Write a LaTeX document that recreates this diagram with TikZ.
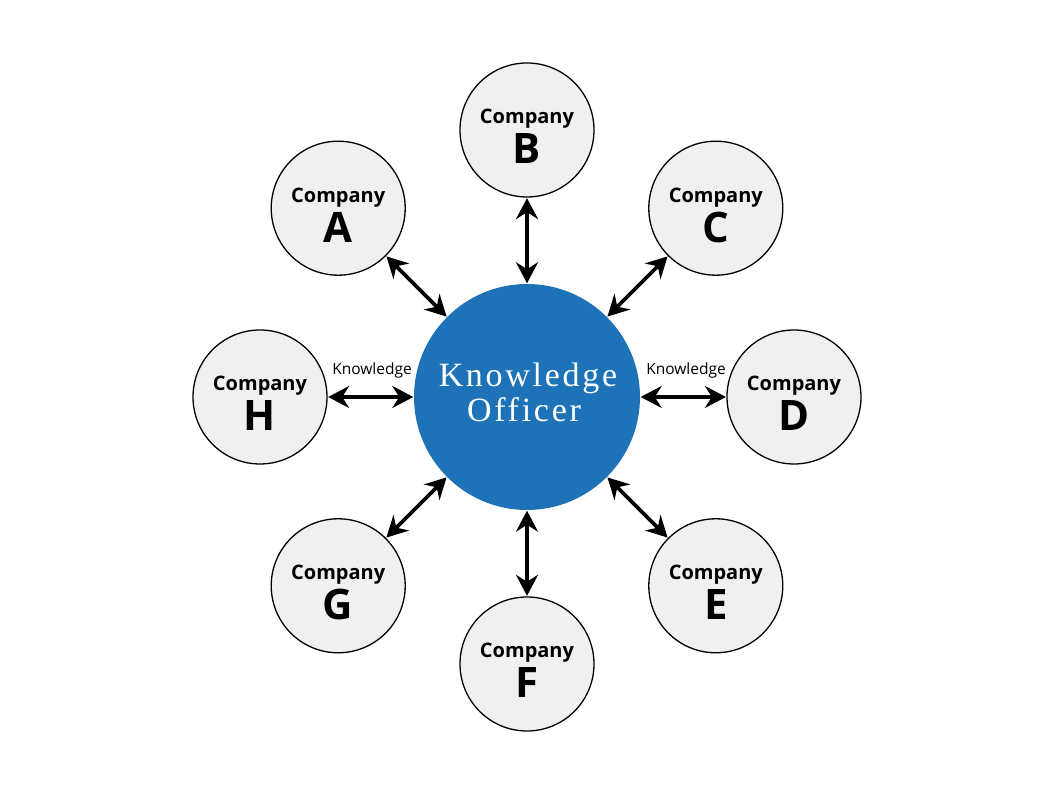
\documentclass[tikz,border=0pt]{standalone}
\usepackage{fontspec}
\setmainfont{Open Sans}
\newfontfamily\kofont[LetterSpace=8]{Liberation Serif}
\usetikzlibrary{arrows.meta,calc}
\definecolor{kblue}{RGB}{30,115,184}
\definecolor{cgray}{RGB}{240,240,240}
\begin{document}
\begin{tikzpicture}[x=1pt,y=1pt,
  company/.style={circle,draw=black,line width=1.3pt,fill=cgray,minimum size=134pt,inner sep=0pt},
  kocircle/.style={circle,fill=kblue,minimum size=226pt,inner sep=0pt},
  link/.style={{Stealth[length=21pt,width=22pt,inset=7pt]}-{Stealth[length=21pt,width=22pt,inset=7pt]},line width=3.8pt,shorten <=0.5pt,shorten >=0.5pt},
  ctext/.style={inner sep=0pt,font=\fontsize{20}{24}\selectfont\bfseries},
  cletter/.style={inner sep=0pt,font=\fontsize{42}{48}\selectfont\bfseries},
  klabel/.style={inner sep=0pt,font=\fontsize{15.5}{18}\selectfont},
  kotext/.style={inner sep=0pt,text=white,font=\kofont\fontsize{34}{40}\selectfont}
]
\useasboundingbox (0,0) rectangle (1058,794);
\node[kocircle] (ko) at (527,397) {};
\node[kotext,anchor=base] (ko1) at (528,407) {Knowledge};
\node[kotext,anchor=base] (ko2) at (524,372) {Officer};
\foreach \n/\a in {A/135,B/90,C/45,D/0,E/-45,F/-90,G/-135,H/180} {
  \node[company] (\n) at ($(ko)+(\a:267)$) {};
  \node[ctext,anchor=base] (\n-t) at ($(\n)+(0,6)$) {Company};
  \node[cletter,anchor=base] (\n-l) at ($(\n)+(0,-34)$) {\n};
  \draw[link] (ko) -- (\n);
}
\node[klabel,anchor=base] (kH) at (372,419) {Knowledge};
\node[klabel,anchor=base] (kD) at (686,419) {Knowledge};
\end{tikzpicture}
\end{document}
